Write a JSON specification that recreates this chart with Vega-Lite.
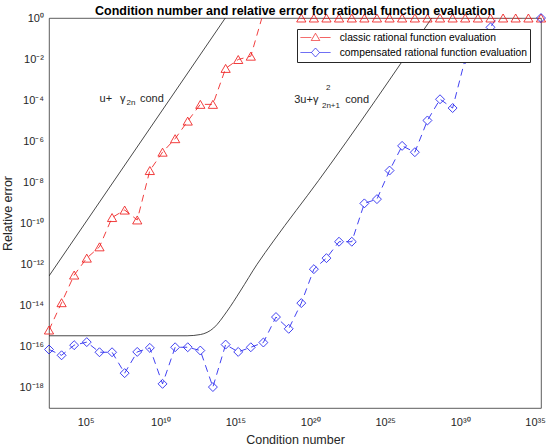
{
  "$schema": "https://vega.github.io/schema/vega-lite/v6.json",
  "width": 492,
  "height": 390,
  "autosize": {"type": "none"},
  "padding": {"left": 49, "top": 18, "right": 9, "bottom": 38},
  "background": "white",
  "title": {"text": "Condition number and relative error for rational function evaluation", "font": "Liberation Sans", "fontSize": 12.5, "fontWeight": "bold", "color": "black", "anchor": "middle", "offset": 2, "dy": 8},
  "config": {
    "view": {"stroke": "#333333", "strokeWidth": 0.8},
    "axis": {"domain": false, "grid": false, "labelFont": "Liberation Sans", "labelFontSize": 11, "labelColor": "#262626", "tickColor": "#333333", "tickWidth": 0.7, "tickSize": 0, "titleFont": "Liberation Sans", "titleFontSize": 12.5, "titleFontWeight": "normal", "titleColor": "#262626", "labelFlush": false, "labelOverlap": false},
    "legend": {"orient": "top-right", "offset": 11, "padding": 3, "fillColor": "white", "strokeColor": "#262626", "labelFont": "Liberation Sans", "labelFontSize": 10.3, "labelColor": "black", "labelLimit": 0, "symbolSize": 100, "symbolOffset": 10, "labelOffset": 18.7, "rowPadding": 3, "symbolStrokeWidth": 0.8, "symbolFillColor": "transparent", "symbolDash": [1, 0]}
  },
  "datasets": {
    "bound1": [{"cond": 363, "err": 2.7e-13}, {"cond": 2.14e14, "err": 1}],
    "bound2": [
      {"cond": 363, "err": 3.3e-16}, {"cond": 6.0e11, "err": 3.3e-16}, {"cond": 4.7e12, "err": 3.8e-16},
      {"cond": 3.55e13, "err": 7.9e-16}, {"cond": 2.8e14, "err": 5.2e-15}, {"cond": 2.14e15, "err": 5.0e-14},
      {"cond": 2.8e16, "err": 1e-12}, {"cond": 3.55e17, "err": 1.38e-11}, {"cond": 3.55e20, "err": 1.2e-8},
      {"cond": 1.29e28, "err": 1}
    ],
    "series": [
      {"method": "classic rational function evaluation", "cond": 363, "err": 6.3e-16},
      {"method": "classic rational function evaluation", "cond": 2512, "err": 1.35e-14},
      {"method": "classic rational function evaluation", "cond": 17378, "err": 3.0e-13},
      {"method": "classic rational function evaluation", "cond": 120226, "err": 2.0e-12},
      {"method": "classic rational function evaluation", "cond": 851138, "err": 7.1e-12},
      {"method": "classic rational function evaluation", "cond": 5.888e6, "err": 1.9e-10},
      {"method": "classic rational function evaluation", "cond": 4.074e7, "err": 4.4e-10},
      {"method": "classic rational function evaluation", "cond": 2.818e8, "err": 1.45e-10},
      {"method": "classic rational function evaluation", "cond": 1.95e9, "err": 3.7e-8},
      {"method": "classic rational function evaluation", "cond": 1.38e10, "err": 2.9e-7},
      {"method": "classic rational function evaluation", "cond": 9.55e10, "err": 1.32e-6},
      {"method": "classic rational function evaluation", "cond": 6.607e11, "err": 9.5e-6},
      {"method": "classic rational function evaluation", "cond": 4.571e12, "err": 6.2e-5},
      {"method": "classic rational function evaluation", "cond": 3.162e13, "err": 6.2e-5},
      {"method": "classic rational function evaluation", "cond": 2.239e14, "err": 3.5e-3},
      {"method": "classic rational function evaluation", "cond": 1.549e15, "err": 9.5e-3},
      {"method": "classic rational function evaluation", "cond": 1.072e16, "err": 1.38e-2},
      {"method": "classic rational function evaluation", "cond": 7.413e16, "err": 1.8},
      {"method": "classic rational function evaluation", "cond": 5.129e17, "err": 1.8},
      {"method": "classic rational function evaluation", "cond": 3.631e18, "err": 1.8},
      {"method": "classic rational function evaluation", "cond": 2.512e19, "err": 1},
      {"method": "classic rational function evaluation", "cond": 1.738e20, "err": 1},
      {"method": "classic rational function evaluation", "cond": 1.202e21, "err": 1},
      {"method": "classic rational function evaluation", "cond": 8.318e21, "err": 1},
      {"method": "classic rational function evaluation", "cond": 5.888e22, "err": 1},
      {"method": "classic rational function evaluation", "cond": 4.074e23, "err": 1},
      {"method": "classic rational function evaluation", "cond": 2.818e24, "err": 1},
      {"method": "classic rational function evaluation", "cond": 1.95e25, "err": 1},
      {"method": "classic rational function evaluation", "cond": 1.349e26, "err": 1},
      {"method": "classic rational function evaluation", "cond": 9.55e26, "err": 1},
      {"method": "classic rational function evaluation", "cond": 6.607e27, "err": 1},
      {"method": "classic rational function evaluation", "cond": 4.571e28, "err": 1},
      {"method": "classic rational function evaluation", "cond": 3.162e29, "err": 1},
      {"method": "classic rational function evaluation", "cond": 2.188e30, "err": 1},
      {"method": "classic rational function evaluation", "cond": 1.549e31, "err": 1},
      {"method": "classic rational function evaluation", "cond": 1.072e32, "err": 1},
      {"method": "classic rational function evaluation", "cond": 7.413e32, "err": 1},
      {"method": "classic rational function evaluation", "cond": 5.129e33, "err": 1},
      {"method": "classic rational function evaluation", "cond": 3.631e34, "err": 1},
      {"method": "classic rational function evaluation", "cond": 2.512e35, "err": 1},
      {"method": "compensated rational function evaluation", "cond": 363, "err": 7.1e-17},
      {"method": "compensated rational function evaluation", "cond": 2512, "err": 3.7e-17},
      {"method": "compensated rational function evaluation", "cond": 17378, "err": 1.15e-16},
      {"method": "compensated rational function evaluation", "cond": 120226, "err": 1.62e-16},
      {"method": "compensated rational function evaluation", "cond": 851138, "err": 5.2e-17},
      {"method": "compensated rational function evaluation", "cond": 5.888e6, "err": 5.2e-17},
      {"method": "compensated rational function evaluation", "cond": 4.074e7, "err": 5.0e-18},
      {"method": "compensated rational function evaluation", "cond": 2.818e8, "err": 5.4e-17},
      {"method": "compensated rational function evaluation", "cond": 1.95e9, "err": 8.5e-17},
      {"method": "compensated rational function evaluation", "cond": 1.38e10, "err": 1.5e-18},
      {"method": "compensated rational function evaluation", "cond": 9.55e10, "err": 9.1e-17},
      {"method": "compensated rational function evaluation", "cond": 6.607e11, "err": 9.1e-17},
      {"method": "compensated rational function evaluation", "cond": 4.571e12, "err": 6.3e-17},
      {"method": "compensated rational function evaluation", "cond": 3.162e13, "err": 1.05e-18},
      {"method": "compensated rational function evaluation", "cond": 2.239e14, "err": 1.23e-16},
      {"method": "compensated rational function evaluation", "cond": 1.549e15, "err": 5.4e-17},
      {"method": "compensated rational function evaluation", "cond": 1.072e16, "err": 9.1e-17},
      {"method": "compensated rational function evaluation", "cond": 7.413e16, "err": 1.55e-16},
      {"method": "compensated rational function evaluation", "cond": 5.129e17, "err": 2.7e-15},
      {"method": "compensated rational function evaluation", "cond": 3.631e18, "err": 7.2e-16},
      {"method": "compensated rational function evaluation", "cond": 2.512e19, "err": 1.29e-14},
      {"method": "compensated rational function evaluation", "cond": 1.738e20, "err": 5.8e-13},
      {"method": "compensated rational function evaluation", "cond": 1.202e21, "err": 2.0e-12},
      {"method": "compensated rational function evaluation", "cond": 8.318e21, "err": 1.26e-11},
      {"method": "compensated rational function evaluation", "cond": 5.888e22, "err": 1.26e-11},
      {"method": "compensated rational function evaluation", "cond": 4.074e23, "err": 9.3e-10},
      {"method": "compensated rational function evaluation", "cond": 2.818e24, "err": 1.5e-9},
      {"method": "compensated rational function evaluation", "cond": 1.95e25, "err": 3.7e-8},
      {"method": "compensated rational function evaluation", "cond": 1.349e26, "err": 5.9e-7},
      {"method": "compensated rational function evaluation", "cond": 9.55e26, "err": 2.9e-7},
      {"method": "compensated rational function evaluation", "cond": 6.607e27, "err": 1.02e-5},
      {"method": "compensated rational function evaluation", "cond": 4.571e28, "err": 1.1e-4},
      {"method": "compensated rational function evaluation", "cond": 3.162e29, "err": 4.1e-5},
      {"method": "compensated rational function evaluation", "cond": 2.188e30, "err": 1.0e-2},
      {"method": "compensated rational function evaluation", "cond": 1.549e31, "err": 0.1},
      {"method": "compensated rational function evaluation", "cond": 1.072e32, "err": 0.35},
      {"method": "compensated rational function evaluation", "cond": 7.413e32, "err": 3.2},
      {"method": "compensated rational function evaluation", "cond": 5.129e33, "err": 3.2},
      {"method": "compensated rational function evaluation", "cond": 3.631e34, "err": 3.2},
      {"method": "compensated rational function evaluation", "cond": 2.512e35, "err": 1}
    ],
    "notes": [
      {"part": "main", "t": "u+", "cond": 8.6e5, "err": 1.18e-4},
      {"part": "main", "t": "γ", "cond": 2.0e7, "err": 1.18e-4},
      {"part": "main", "t": "cond", "cond": 4.3e8, "err": 1.18e-4},
      {"part": "main", "t": "3u+γ", "cond": 8.5e18, "err": 1.05e-4},
      {"part": "main", "t": "cond", "cond": 2.15e22, "err": 1.05e-4},
      {"part": "small", "t": "2n", "cond": 5.5e7, "err": 7.0e-5},
      {"part": "small", "t": "2", "cond": 1.1e21, "err": 4.1e-4},
      {"part": "small", "t": "2n+1", "cond": 6.0e20, "err": 5.0e-5}
    ]
  },
  "layer": [
    {
      "data": {"name": "bound1"},
      "mark": {"type": "line", "color": "#1a1a1a", "strokeWidth": 0.8, "clip": true},
      "encoding": {
        "x": {"field": "cond", "type": "quantitative",
          "scale": {"type": "log", "domain": [363, 2.512e35], "nice": false},
          "axis": {"orient": "bottom",
            "values": [1e3,1e4,1e5,1e6,1e7,1e8,1e9,1e10,1e11,1e12,1e13,1e14,1e15,1e16,1e17,1e18,1e19,1e20,1e21,1e22,1e23,1e24,1e25,1e26,1e27,1e28,1e29,1e30,1e31,1e32,1e33,1e34,1e35],
            "labelExpr": "datum.value==1e5?'10⁵':datum.value==1e10?'10¹⁰':datum.value==1e15?'10¹⁵':datum.value==1e20?'10²⁰':datum.value==1e25?'10²⁵':datum.value==1e30?'10³⁰':datum.value==1e35?'10³⁵':''",
            "labelPadding": 8, "labelBaseline": "top",
            "title": "Condition number", "titleY": 31, "titleBaseline": "middle",
            "encode": {"ticks": {"update": {"y2": {"signal": "indexof([1e5,1e10,1e15,1e20,1e25,1e30,1e35], datum.value) >= 0 ? -5 : -3"}}}}
          }
        },
        "y": {"field": "err", "type": "quantitative",
          "scale": {"type": "log", "domain": [1e-19, 1], "nice": false},
          "axis": {"orient": "left",
            "values": [1e-19,2e-19,3e-19,4e-19,5e-19,6e-19,7e-19,8e-19,9e-19,1e-18,2e-18,3e-18,4e-18,5e-18,6e-18,7e-18,8e-18,9e-18,1e-17,2e-17,3e-17,4e-17,5e-17,6e-17,7e-17,8e-17,9e-17,1e-16,2e-16,3e-16,4e-16,5e-16,6e-16,7e-16,8e-16,9e-16,1e-15,2e-15,3e-15,4e-15,5e-15,6e-15,7e-15,8e-15,9e-15,1e-14,2e-14,3e-14,4e-14,5e-14,6e-14,7e-14,8e-14,9e-14,1e-13,2e-13,3e-13,4e-13,5e-13,6e-13,7e-13,8e-13,9e-13,1e-12,2e-12,3e-12,4e-12,5e-12,6e-12,7e-12,8e-12,9e-12,1e-11,2e-11,3e-11,4e-11,5e-11,6e-11,7e-11,8e-11,9e-11,1e-10,2e-10,3e-10,4e-10,5e-10,6e-10,7e-10,8e-10,9e-10,1e-9,2e-9,3e-9,4e-9,5e-9,6e-9,7e-9,8e-9,9e-9,1e-8,2e-8,3e-8,4e-8,5e-8,6e-8,7e-8,8e-8,9e-8,1e-7,2e-7,3e-7,4e-7,5e-7,6e-7,7e-7,8e-7,9e-7,1e-6,2e-6,3e-6,4e-6,5e-6,6e-6,7e-6,8e-6,9e-6,1e-5,2e-5,3e-5,4e-5,5e-5,6e-5,7e-5,8e-5,9e-5,1e-4,2e-4,3e-4,4e-4,5e-4,6e-4,7e-4,8e-4,9e-4,1e-3,2e-3,3e-3,4e-3,5e-3,6e-3,7e-3,8e-3,9e-3,1e-2,2e-2,3e-2,4e-2,5e-2,6e-2,7e-2,8e-2,9e-2,1e-1,2e-1,3e-1,4e-1,5e-1,6e-1,7e-1,8e-1,9e-1,1],
            "labelExpr": "datum.value==1?'10⁰':datum.value==1e-2?'10⁻²':datum.value==1e-4?'10⁻⁴':datum.value==1e-6?'10⁻⁶':datum.value==1e-8?'10⁻⁸':datum.value==1e-10?'10⁻¹⁰':datum.value==1e-12?'10⁻¹²':datum.value==1e-14?'10⁻¹⁴':datum.value==1e-16?'10⁻¹⁶':datum.value==1e-18?'10⁻¹⁸':''",
            "labelPadding": 5.5,
            "title": "Relative error", "titleX": -41.5, "titleY": 195, "titleAngle": -90, "titleBaseline": "middle", "titleAlign": "center",
            "encode": {"ticks": {"update": {"x2": {"signal": "indexof([1,1e-2,1e-4,1e-6,1e-8,1e-10,1e-12,1e-14,1e-16,1e-18], datum.value) >= 0 ? 5 : 3"}}}}
          }
        }
      }
    },
    {
      "data": {"name": "bound2"},
      "mark": {"type": "line", "color": "#1a1a1a", "strokeWidth": 0.8, "clip": true, "interpolate": "monotone"},
      "encoding": {
        "x": {"field": "cond", "type": "quantitative",
          "axis": {"orient": "top", "labels": false, "title": null,
            "values": [1e3,1e4,1e5,1e6,1e7,1e8,1e9,1e10,1e11,1e12,1e13,1e14,1e15,1e16,1e17,1e18,1e19,1e20,1e21,1e22,1e23,1e24,1e25,1e26,1e27,1e28,1e29,1e30,1e31,1e32,1e33,1e34,1e35],
            "encode": {"ticks": {"update": {"y2": {"signal": "indexof([1e5,1e10,1e15,1e20,1e25,1e30,1e35], datum.value) >= 0 ? 5 : 3"}}}}
          }
        },
        "y": {"field": "err", "type": "quantitative",
          "axis": {"orient": "right", "labels": false, "title": null,
            "values": [1e-19,2e-19,3e-19,4e-19,5e-19,6e-19,7e-19,8e-19,9e-19,1e-18,2e-18,3e-18,4e-18,5e-18,6e-18,7e-18,8e-18,9e-18,1e-17,2e-17,3e-17,4e-17,5e-17,6e-17,7e-17,8e-17,9e-17,1e-16,2e-16,3e-16,4e-16,5e-16,6e-16,7e-16,8e-16,9e-16,1e-15,2e-15,3e-15,4e-15,5e-15,6e-15,7e-15,8e-15,9e-15,1e-14,2e-14,3e-14,4e-14,5e-14,6e-14,7e-14,8e-14,9e-14,1e-13,2e-13,3e-13,4e-13,5e-13,6e-13,7e-13,8e-13,9e-13,1e-12,2e-12,3e-12,4e-12,5e-12,6e-12,7e-12,8e-12,9e-12,1e-11,2e-11,3e-11,4e-11,5e-11,6e-11,7e-11,8e-11,9e-11,1e-10,2e-10,3e-10,4e-10,5e-10,6e-10,7e-10,8e-10,9e-10,1e-9,2e-9,3e-9,4e-9,5e-9,6e-9,7e-9,8e-9,9e-9,1e-8,2e-8,3e-8,4e-8,5e-8,6e-8,7e-8,8e-8,9e-8,1e-7,2e-7,3e-7,4e-7,5e-7,6e-7,7e-7,8e-7,9e-7,1e-6,2e-6,3e-6,4e-6,5e-6,6e-6,7e-6,8e-6,9e-6,1e-5,2e-5,3e-5,4e-5,5e-5,6e-5,7e-5,8e-5,9e-5,1e-4,2e-4,3e-4,4e-4,5e-4,6e-4,7e-4,8e-4,9e-4,1e-3,2e-3,3e-3,4e-3,5e-3,6e-3,7e-3,8e-3,9e-3,1e-2,2e-2,3e-2,4e-2,5e-2,6e-2,7e-2,8e-2,9e-2,1e-1,2e-1,3e-1,4e-1,5e-1,6e-1,7e-1,8e-1,9e-1,1],
            "encode": {"ticks": {"update": {"x2": {"signal": "indexof([1,1e-2,1e-4,1e-6,1e-8,1e-10,1e-12,1e-14,1e-16,1e-18], datum.value) >= 0 ? -5 : -3"}}}}
          }
        }
      }
    },
    {
      "data": {"name": "series"},
      "mark": {"type": "line", "strokeWidth": 0.85, "strokeDash": [7, 5], "clip": true},
      "encoding": {
        "x": {"field": "cond", "type": "quantitative", "axis": null},
        "y": {"field": "err", "type": "quantitative", "axis": null},
        "color": {"field": "method", "type": "nominal",
          "scale": {"domain": ["classic rational function evaluation", "compensated rational function evaluation"], "range": ["#ee1c1c", "#2020ee"]},
          "legend": {"title": null}
        }
      }
    },
    {
      "data": {"name": "series"},
      "transform": [{"filter": "datum.err <= 1.0001 && datum.method == 'classic rational function evaluation'"}],
      "mark": {"type": "point", "filled": false, "size": 85, "strokeWidth": 0.85, "opacity": 1, "shape": "triangle-up"},
      "encoding": {
        "x": {"field": "cond", "type": "quantitative", "axis": null},
        "y": {"field": "err", "type": "quantitative", "axis": null},
        "color": {"field": "method", "type": "nominal", "legend": {"title": null}}
      }
    },
    {
      "data": {"name": "series"},
      "transform": [{"filter": "datum.err <= 1.0001 && datum.method == 'compensated rational function evaluation'"}],
      "mark": {"type": "point", "filled": false, "size": 80, "strokeWidth": 0.85, "opacity": 1, "shape": "diamond"},
      "encoding": {
        "x": {"field": "cond", "type": "quantitative", "axis": null},
        "y": {"field": "err", "type": "quantitative", "axis": null},
        "color": {"field": "method", "type": "nominal", "legend": {"title": null}}
      }
    },
    {
      "data": {"name": "series"},
      "transform": [{"filter": "datum.err < 0"}],
      "mark": {"type": "point", "filled": false, "strokeWidth": 0.85},
      "encoding": {
        "x": {"field": "cond", "type": "quantitative", "axis": null},
        "y": {"field": "err", "type": "quantitative", "axis": null},
        "color": {"field": "method", "type": "nominal", "legend": {"title": null}},
        "shape": {"field": "method", "type": "nominal",
          "scale": {"domain": ["classic rational function evaluation", "compensated rational function evaluation"], "range": ["M-3,0H-0.85M0.85,0H3M-0.85,0.6L0,-0.85L0.85,0.6Z", "M-3,0H-0.8M0.8,0H3M-0.8,0L0,-0.9L0.8,0L0,0.9Z"]},
          "legend": {"title": null}
        }
      }
    },
    {
      "data": {"name": "notes"},
      "transform": [{"filter": "datum.part == 'main'"}],
      "mark": {"type": "text", "align": "left", "baseline": "middle", "font": "Liberation Sans", "fontSize": 11, "color": "#262626"},
      "encoding": {
        "x": {"field": "cond", "type": "quantitative", "axis": null},
        "y": {"field": "err", "type": "quantitative", "axis": null},
        "text": {"field": "t"}
      }
    },
    {
      "data": {"name": "notes"},
      "transform": [{"filter": "datum.part == 'small'"}],
      "mark": {"type": "text", "align": "left", "baseline": "middle", "font": "Liberation Sans", "fontSize": 8, "color": "#262626"},
      "encoding": {
        "x": {"field": "cond", "type": "quantitative", "axis": null},
        "y": {"field": "err", "type": "quantitative", "axis": null},
        "text": {"field": "t"}
      }
    }
  ],
  "resolve": {"axis": {"x": "independent", "y": "independent"}}
}
